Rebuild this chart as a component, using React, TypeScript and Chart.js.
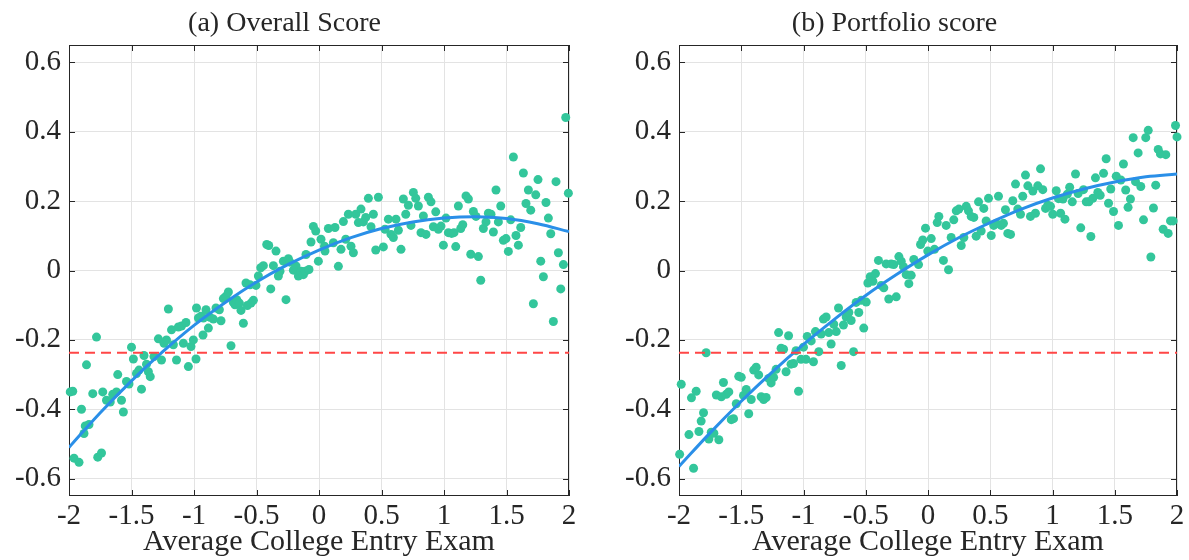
import React, { useEffect, useRef } from "react";
import { Chart, registerables } from "chart.js";

Chart.register(...registerables);

const FONT = "'Liberation Serif', 'Times New Roman', serif";
const TEXT = "#262626";

const titles = ["(a) Overall Score", "(b) Portfolio score"];
const xTitle = "Average College Entry Exam";

const xTicks = [-2, -1.5, -1, -0.5, 0, 0.5, 1, 1.5, 2];
const xTickLabels = ["-2", "-1.5", "-1", "-0.5", "0", "0.5", "1", "1.5", "2"];
const yTicks = [-0.6, -0.4, -0.2, 0, 0.2, 0.4, 0.6];
const yTickLabels = ["-0.6", "-0.4", "-0.2", "0", "0.2", "0.4", "0.6"];

// (a) Overall score scatter
const leftX = [
  -1.99, -1.97, -1.96, -1.92, -1.9, -1.88, -1.87, -1.86, -1.84, -1.81, -1.78, -1.77, -1.74, -1.73, -1.7, -1.67, -1.65, -1.62, -1.61, -1.58,
  -1.565, -1.54, -1.52, -1.5, -1.485, -1.46, -1.44, -1.42, -1.4, -1.38, -1.365, -1.35, -1.32, -1.285, -1.26, -1.24, -1.22, -1.205, -1.18, -1.165,
  -1.14, -1.125, -1.1, -1.085, -1.064, -1.045, -1.024, -1.005, -0.984, -0.98, -0.965, -0.944, -0.925, -0.928, -0.904, -0.885, -0.872, -0.845, -0.824, -0.797,
  -0.784, -0.765, -0.744, -0.725, -0.704, -0.685, -0.672, -0.658, -0.637, -0.624, -0.605, -0.584, -0.573, -0.552, -0.544, -0.525, -0.504, -0.485, -0.466, -0.445,
  -0.418, -0.402, -0.386, -0.365, -0.344, -0.325, -0.312, -0.285, -0.264, -0.245, -0.232, -0.205, -0.184, -0.165, -0.144, -0.125, -0.11, -0.104, -0.08, -0.064,
  -0.045, -0.026, -0.005, 0.016, 0.044, 0.048, 0.075, 0.115, 0.128, 0.155, 0.176, 0.195, 0.214, 0.235, 0.256, 0.275, 0.294, 0.315, 0.336, 0.355,
  0.374, 0.395, 0.416, 0.435, 0.454, 0.475, 0.515, 0.528, 0.555, 0.576, 0.595, 0.616, 0.635, 0.656, 0.675, 0.694, 0.715, 0.736, 0.755, 0.774,
  0.795, 0.816, 0.835, 0.856, 0.875, 0.896, 0.915, 0.934, 0.955, 0.976, 0.995, 1.016, 1.035, 1.061, 1.08, 1.094, 1.115, 1.134, 1.15, 1.176,
  1.195, 1.214, 1.235, 1.256, 1.275, 1.294, 1.315, 1.336, 1.355, 1.376, 1.395, 1.416, 1.435, 1.454, 1.475, 1.496, 1.515, 1.534, 1.555, 1.576,
  1.595, 1.614, 1.635, 1.656, 1.675, 1.694, 1.715, 1.734, 1.752, 1.774, 1.795, 1.816, 1.835, 1.854, 1.875, 1.896, 1.915, 1.934, 1.955, 1.974,
  1.995,
];
const leftY = [
  -0.35, -0.348, -0.541, -0.553, -0.4, -0.47, -0.448, -0.272, -0.444, -0.355, -0.192, -0.538, -0.526, -0.35, -0.374, -0.379, -0.357, -0.35, -0.3, -0.374,
  -0.408, -0.32, -0.327, -0.221, -0.255, -0.297, -0.287, -0.342, -0.245, -0.27, -0.292, -0.306, -0.248, -0.197, -0.258, -0.21, -0.2, -0.111, -0.171, -0.214,
  -0.258, -0.163, -0.16, -0.21, -0.15, -0.277, -0.219, -0.2, -0.255, -0.108, -0.137, -0.132, -0.137, -0.186, -0.113, -0.166, -0.135, -0.14, -0.108, -0.113,
  -0.145, -0.081, -0.074, -0.062, -0.217, -0.092, -0.099, -0.084, -0.094, -0.115, -0.152, -0.036, -0.101, -0.041, -0.094, -0.086, -0.043, -0.016, 0.008, 0.014,
  0.075, 0.072, -0.053, 0.014, 0.056, -0.016, -0.002, 0.027, -0.084, 0.034, 0.024, 0.001, 0.013, -0.016, -0.002, -0.012, -0.002, 0.046, 0.003, 0.082,
  0.127, 0.114, 0.027, 0.09, 0.07, 0.056, 0.121, 0.08, 0.124, 0.012, 0.061, 0.141, 0.09, 0.162, 0.07, 0.051, 0.162, 0.138, 0.177, 0.14,
  0.153, 0.208, 0.126, 0.162, 0.059, 0.211, 0.068, 0.119, 0.148, 0.104, 0.095, 0.148, 0.116, 0.061, 0.206, 0.162, 0.188, 0.13, 0.225, 0.208,
  0.186, 0.109, 0.157, 0.104, 0.211, 0.198, 0.126, 0.169, 0.119, 0.128, 0.073, 0.151, 0.109, 0.107, 0.109, 0.069, 0.186, 0.121, 0.132, 0.215,
  0.206, 0.047, 0.17, 0.156, 0.04, -0.028, 0.121, 0.14, 0.165, 0.162, 0.111, 0.232, 0.14, 0.186, 0.087, 0.092, 0.055, 0.146, 0.327, 0.101,
  0.073, 0.124, 0.281, 0.193, 0.232, 0.174, -0.096, 0.218, 0.262, 0.027, -0.018, 0.196, 0.151, 0.106, -0.147, 0.256, 0.051, -0.053, 0.017, 0.441,
  0.223,
];

// (b) Portfolio score scatter
const rightX = [
  -1.995, -1.982, -1.92, -1.9, -1.883, -1.862, -1.84, -1.822, -1.803, -1.782, -1.76, -1.741, -1.72, -1.7, -1.68, -1.66, -1.643, -1.62, -1.6, -1.58,
  -1.562, -1.54, -1.52, -1.5, -1.482, -1.46, -1.44, -1.42, -1.4, -1.38, -1.36, -1.34, -1.32, -1.3, -1.28, -1.26, -1.24, -1.22, -1.2, -1.18,
  -1.16, -1.14, -1.12, -1.1, -1.08, -1.06, -1.04, -1.02, -1.0, -0.98, -0.97, -0.938, -0.92, -0.904, -0.877, -0.858, -0.84, -0.818, -0.797, -0.778,
  -0.757, -0.737, -0.719, -0.697, -0.679, -0.657, -0.636, -0.617, -0.598, -0.577, -0.556, -0.536, -0.516, -0.496, -0.483, -0.464, -0.443, -0.422, -0.398, -0.376,
  -0.355, -0.336, -0.315, -0.296, -0.275, -0.255, -0.234, -0.215, -0.197, -0.175, -0.154, -0.135, -0.114, -0.076, -0.06, -0.042, -0.02, -0.002, 0.026, 0.052,
  0.074, 0.087, 0.124, 0.146, 0.165, 0.186, 0.207, 0.227, 0.248, 0.267, 0.288, 0.307, 0.325, 0.347, 0.368, 0.387, 0.406, 0.427, 0.448, 0.467,
  0.486, 0.508, 0.528, 0.548, 0.566, 0.588, 0.606, 0.622, 0.641, 0.663, 0.681, 0.703, 0.721, 0.743, 0.761, 0.783, 0.802, 0.823, 0.842, 0.863,
  0.882, 0.904, 0.922, 0.944, 0.962, 0.984, 1.002, 1.03, 1.048, 1.065, 1.084, 1.1, 1.119, 1.138, 1.159, 1.185, 1.206, 1.227, 1.249, 1.271,
  1.292, 1.308, 1.324, 1.345, 1.364, 1.383, 1.41, 1.431, 1.45, 1.468, 1.49, 1.512, 1.53, 1.549, 1.57, 1.588, 1.607, 1.626, 1.648, 1.667,
  1.688, 1.709, 1.731, 1.749, 1.769, 1.79, 1.811, 1.829, 1.849, 1.867, 1.889, 1.91, 1.929, 1.948, 1.969, 1.988, 2.0,
];
const rightY = [
  -0.53, -0.328, -0.473, -0.367, -0.57, -0.348, -0.464, -0.434, -0.41, -0.237, -0.486, -0.466, -0.469, -0.359, -0.488, -0.364, -0.323, -0.357, -0.35, -0.43,
  -0.427, -0.384, -0.305, -0.308, -0.36, -0.343, -0.413, -0.372, -0.287, -0.279, -0.301, -0.364, -0.372, -0.366, -0.311, -0.324, -0.308, -0.285, -0.179, -0.224,
  -0.227, -0.292, -0.188, -0.27, -0.268, -0.231, -0.348, -0.256, -0.221, -0.256, -0.19, -0.203, -0.263, -0.176, -0.234, -0.183, -0.14, -0.134, -0.179, -0.212,
  -0.155, -0.176, -0.108, -0.274, -0.157, -0.134, -0.121, -0.144, -0.234, -0.092, -0.121, -0.086, -0.166, -0.091, -0.036, -0.018, -0.031, -0.009, 0.029, -0.043,
  -0.05, 0.019, -0.082, 0.019, 0.017, -0.076, 0.04, 0.027, 0.011, -0.012, -0.038, -0.014, 0.032, 0.017, 0.075, 0.088, 0.122, 0.056, 0.092, 0.061,
  0.138, 0.156, 0.029, 0.13, 0.002, 0.095, 0.146, 0.172, 0.177, 0.072, 0.095, 0.185, 0.172, 0.156, 0.153, 0.099, 0.198, 0.114, 0.179, 0.143,
  0.208, 0.101, 0.13, 0.136, 0.214, 0.13, 0.136, 0.175, 0.107, 0.104, 0.201, 0.249, 0.177, 0.162, 0.214, 0.275, 0.244, 0.156, 0.229, 0.165,
  0.244, 0.293, 0.233, 0.179, 0.188, 0.185, 0.162, 0.23, 0.207, 0.165, 0.206, 0.148, 0.22, 0.24, 0.198, 0.278, 0.222, 0.123, 0.233, 0.198,
  0.198, 0.098, 0.208, 0.267, 0.225, 0.217, 0.28, 0.322, 0.194, 0.235, 0.17, 0.272, 0.13, 0.261, 0.307, 0.232, 0.182, 0.206, 0.383, 0.256,
  0.339, 0.242, 0.146, 0.383, 0.404, 0.039, 0.18, 0.246, 0.349, 0.336, 0.119, 0.334, 0.107, 0.143, 0.143, 0.418, 0.385,
];

// quadratic fit curves at 0.25 steps
const fitX = [-2, -1.75, -1.5, -1.25, -1, -0.75, -0.5, -0.25, 0, 0.25, 0.5, 0.75, 1, 1.25, 1.5, 1.75, 2];
const leftFitY = [-0.51, -0.41, -0.318, -0.234, -0.158, -0.092, -0.033, 0.017, 0.059, 0.094, 0.121, 0.14, 0.151, 0.155, 0.15, 0.135, 0.112];
const rightFitY = [-0.565, -0.468, -0.377, -0.292, -0.213, -0.14, -0.072, -0.011, 0.045, 0.095, 0.138, 0.177, 0.209, 0.235, 0.255, 0.27, 0.278];

// reference (dashed) line
const refX = [-2, 2];
const refY = [-0.237, -0.237];

const boxPlugin = {
  id: "matlabBox",
  beforeDatasetsDraw(chart: any) {
    const { ctx, chartArea } = chart;
    const { left, right, top, bottom } = chartArea;
    const xs = chart.scales.x;
    const ys = chart.scales.y;
    const tl = 6;
    ctx.save();
    ctx.strokeStyle = TEXT;
    ctx.lineWidth = 1;
    ctx.beginPath();
    for (const v of xTicks) {
      const px = Math.round(xs.getPixelForValue(v)) + 0.5;
      ctx.moveTo(px, bottom);
      ctx.lineTo(px, bottom - tl);
      ctx.moveTo(px, top);
      ctx.lineTo(px, top + tl);
    }
    for (const v of yTicks) {
      const py = Math.round(ys.getPixelForValue(v)) + 0.5;
      ctx.moveTo(left, py);
      ctx.lineTo(left + tl, py);
      ctx.moveTo(right, py);
      ctx.lineTo(right - tl, py);
    }
    ctx.stroke();
    ctx.strokeRect(Math.round(left) + 0.5, Math.round(top) + 0.5, Math.round(right - left) - 1, Math.round(bottom - top) - 1);
    ctx.restore();
  },
};

function makeConfig(xs: number[], ys: number[], fitY: number[], title: string, padL: number, padR: number, yW: number): any {
  return {
    type: "scatter",
    data: {
      datasets: [
        {
          data: xs.map((v, i) => ({ x: v, y: ys[i] })),
          backgroundColor: "#33c69b",
          borderWidth: 0,
          pointRadius: 4.5,
          pointHoverRadius: 4.5,
          clip: false,
          order: 3,
        },
        {
          type: "line",
          data: fitX.map((v, i) => ({ x: v, y: fitY[i] })),
          borderColor: "#2a8fe8",
          borderWidth: 3,
          pointRadius: 0,
          tension: 0.4,
          fill: false,
          showLine: true,
          order: 2,
        },
        {
          type: "line",
          data: refX.map((v, i) => ({ x: v, y: refY[i] })),
          borderColor: "#ff4646",
          borderWidth: 2,
          borderDash: [10, 6],
          pointRadius: 0,
          fill: false,
          showLine: true,
          order: 1,
        },
      ],
    },
    options: {
      responsive: false,
      animation: false,
      events: [],
      layout: { padding: { left: padL, right: padR, top: 0, bottom: 0 } },
      plugins: {
        legend: { display: false },
        tooltip: { enabled: false },
        title: {
          display: true,
          text: title,
          color: TEXT,
          font: { family: FONT, size: 28, weight: "normal", lineHeight: 1.2 },
          padding: { top: 7, bottom: 4.4 },
        },
      },
      scales: {
        x: {
          type: "linear",
          min: -2,
          max: 2,
          afterBuildTicks: (s: any) => {
            s.ticks = xTicks.map((v) => ({ value: v }));
          },
          afterFit: (s: any) => {
            s.height = 64;
          },
          ticks: {
            callback: (_v: any, i: number) => xTickLabels[i],
            color: TEXT,
            font: { family: FONT, size: 29, lineHeight: 1.2 },
            padding: 3,
            maxRotation: 0,
            autoSkip: false,
          },
          grid: { color: "#e3e3e3", drawTicks: false, lineWidth: 1 },
          border: { display: false },
          title: {
            display: true,
            text: xTitle,
            color: TEXT,
            font: { family: FONT, size: 30, lineHeight: 1.2 },
            padding: { top: 0, bottom: 0 },
          },
        },
        y: {
          type: "linear",
          min: -0.65,
          max: 0.65,
          afterBuildTicks: (s: any) => {
            s.ticks = yTicks.map((v) => ({ value: v }));
          },
          afterFit: (s: any) => {
            s.width = yW;
          },
          ticks: {
            callback: (_v: any, i: number) => yTickLabels[i],
            color: TEXT,
            font: { family: FONT, size: 29, lineHeight: 1.2 },
            padding: 8,
            autoSkip: false,
          },
          grid: { color: "#e3e3e3", drawTicks: false, lineWidth: 1 },
          border: { display: false },
        },
      },
    },
    plugins: [boxPlugin],
  };
}

export default function App() {
  const r1 = useRef<HTMLCanvasElement | null>(null);
  const r2 = useRef<HTMLCanvasElement | null>(null);
  useEffect(() => {
    const c1 = new Chart(r1.current as HTMLCanvasElement, makeConfig(leftX, leftY, leftFitY, titles[0], 0, 31, 69));
    const c2 = new Chart(r2.current as HTMLCanvasElement, makeConfig(rightX, rightY, rightFitY, titles[1], 12, 12, 67));
    return () => {
      c1.destroy();
      c2.destroy();
    };
  }, []);
  return (
    <div style={{ position: "absolute", left: 0, top: 0, width: 1189, height: 560, background: "#ffffff", overflow: "hidden" }}>
      <canvas ref={r1} width={600} height={560} style={{ position: "absolute", left: 0, top: 0, width: 600, height: 560 }} />
      <canvas ref={r2} width={589} height={560} style={{ position: "absolute", left: 600, top: 0, width: 589, height: 560 }} />
    </div>
  );
}
